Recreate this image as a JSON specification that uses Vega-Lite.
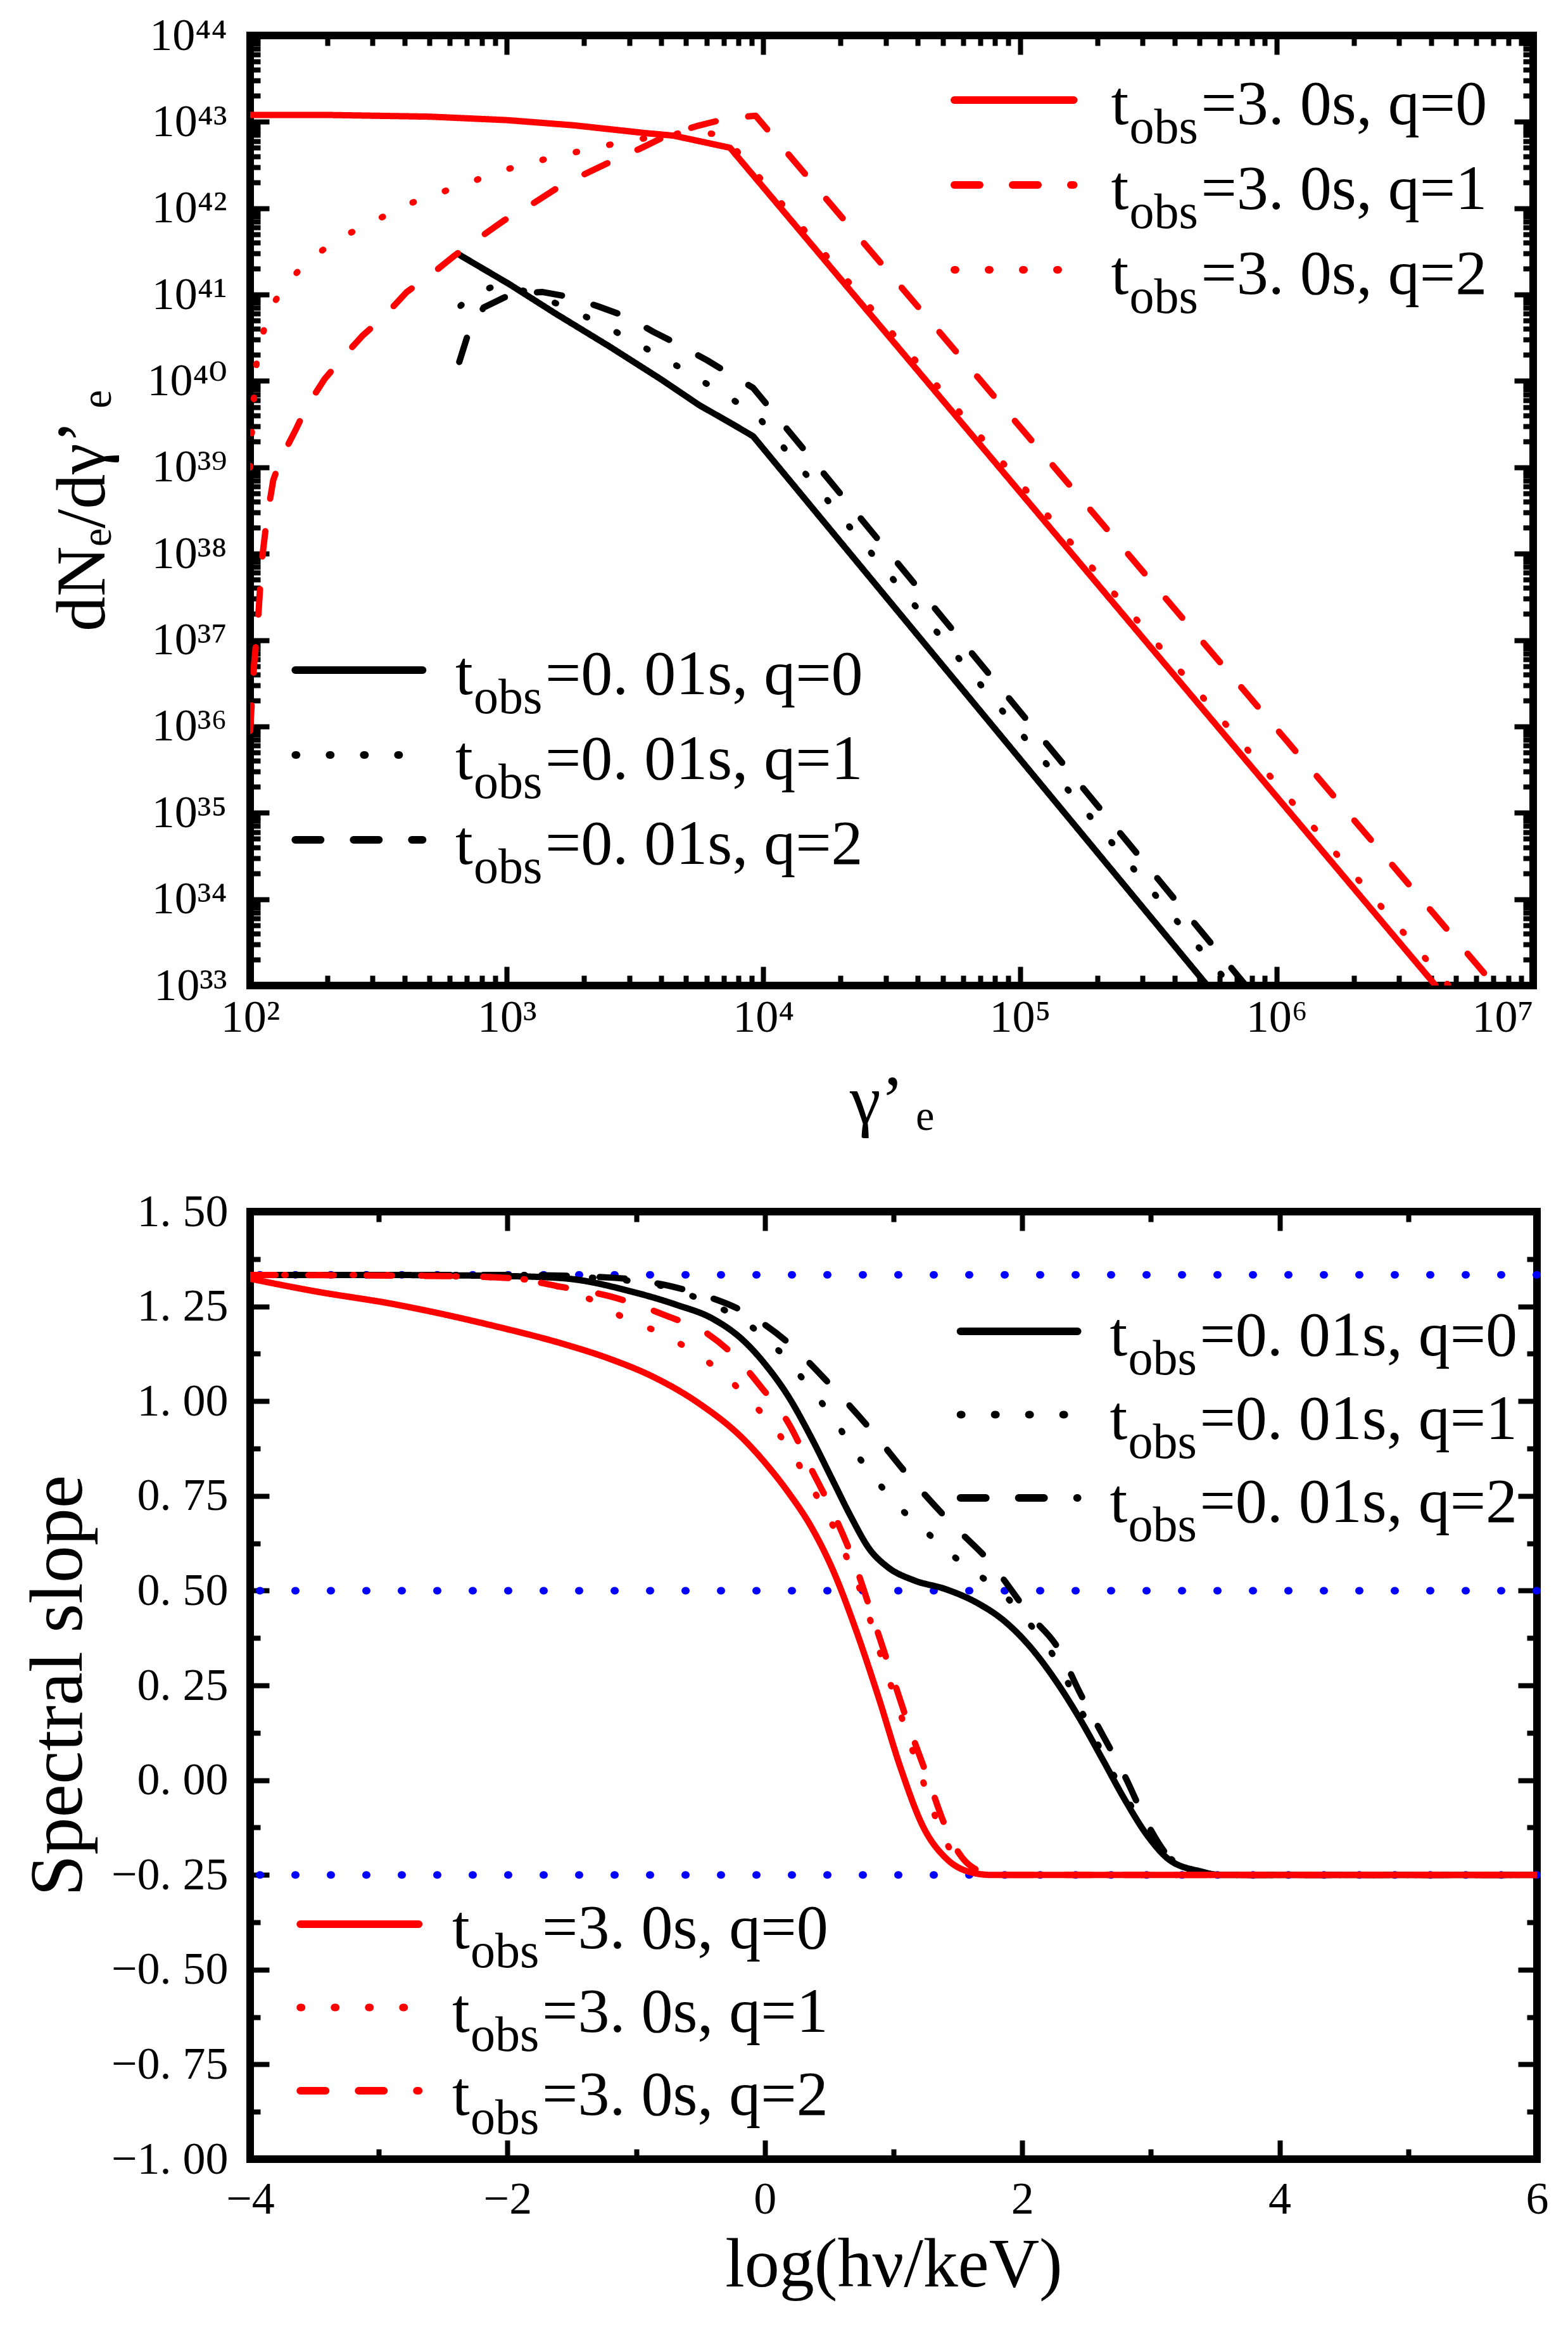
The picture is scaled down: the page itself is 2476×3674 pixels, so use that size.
{
  "$schema": "https://vega.github.io/schema/vega-lite/v6.json",
  "background": "white",
  "padding": {"left": 28, "top": 14, "right": 20, "bottom": 10},
  "spacing": 70,
  "config": {
    "font": "Liberation Serif",
    "view": {"stroke": "black", "strokeWidth": 12},
    "axis": {
      "domain": false, "grid": false, "tickColor": "black", "tickWidth": 8, "tickCap": "butt",
      "labelColor": "black", "labelFont": "Liberation Serif, DejaVu Serif", "labelFontSize": 72, "labelLimit": 0,
      "titleFont": "Liberation Serif, DejaVu Serif", "titleFontSize": 110, "titleFontWeight": "normal", "titleColor": "black",
      "labelOverlap": false, "labelFlush": false, "labelBound": false
    },
    "text": {"font": "Liberation Serif", "color": "black"}
  },
  "datasets": {
    "topLines": [
      {"run": "t=0.01s, q=0", "gamma": 645.7, "dn": 2.95e41},
      {"run": "t=0.01s, q=0", "gamma": 1023, "dn": 1.32e41},
      {"run": "t=0.01s, q=0", "gamma": 1549, "dn": 6.03e40},
      {"run": "t=0.01s, q=0", "gamma": 2512, "dn": 2.51e40},
      {"run": "t=0.01s, q=0", "gamma": 3981, "dn": 1.05e40},
      {"run": "t=0.01s, q=0", "gamma": 5623, "dn": 5.25e39},
      {"run": "t=0.01s, q=0", "gamma": 7586, "dn": 3.16e39},
      {"run": "t=0.01s, q=0", "gamma": 9120, "dn": 2.29e39},
      {"run": "t=0.01s, q=0", "gamma": 537000, "dn": 1e33},
      {"run": "t=0.01s, q=1", "gamma": 660.7, "dn": 7.41e40},
      {"run": "t=0.01s, q=1", "gamma": 741.3, "dn": 1e41},
      {"run": "t=0.01s, q=1", "gamma": 881.0, "dn": 1.23e41},
      {"run": "t=0.01s, q=1", "gamma": 1122, "dn": 1.15e41},
      {"run": "t=0.01s, q=1", "gamma": 1585, "dn": 7.76e40},
      {"run": "t=0.01s, q=1", "gamma": 2113, "dn": 5.25e40},
      {"run": "t=0.01s, q=1", "gamma": 2818, "dn": 3.39e40},
      {"run": "t=0.01s, q=1", "gamma": 3715, "dn": 2.14e40},
      {"run": "t=0.01s, q=1", "gamma": 4898, "dn": 1.35e40},
      {"run": "t=0.01s, q=1", "gamma": 6457, "dn": 8.13e39},
      {"run": "t=0.01s, q=1", "gamma": 9333, "dn": 4.17e39},
      {"run": "t=0.01s, q=1", "gamma": 661000, "dn": 1e33},
      {"run": "t=0.01s, q=2", "gamma": 653.1, "dn": 1.66e40},
      {"run": "t=0.01s, q=2", "gamma": 707.9, "dn": 3.55e40},
      {"run": "t=0.01s, q=2", "gamma": 812.8, "dn": 7.08e40},
      {"run": "t=0.01s, q=2", "gamma": 1047, "dn": 1.02e41},
      {"run": "t=0.01s, q=2", "gamma": 1380, "dn": 1.07e41},
      {"run": "t=0.01s, q=2", "gamma": 1778, "dn": 9.33e40},
      {"run": "t=0.01s, q=2", "gamma": 2291, "dn": 7.24e40},
      {"run": "t=0.01s, q=2", "gamma": 2951, "dn": 5.5e40},
      {"run": "t=0.01s, q=2", "gamma": 3715, "dn": 3.72e40},
      {"run": "t=0.01s, q=2", "gamma": 4677, "dn": 2.63e40},
      {"run": "t=0.01s, q=2", "gamma": 6026, "dn": 1.74e40},
      {"run": "t=0.01s, q=2", "gamma": 7413, "dn": 1.2e40},
      {"run": "t=0.01s, q=2", "gamma": 9120, "dn": 8.32e39},
      {"run": "t=0.01s, q=2", "gamma": 759000, "dn": 1e33},
      {"run": "t=3.0s, q=0", "gamma": 100, "dn": 1.202e43},
      {"run": "t=3.0s, q=0", "gamma": 199.5, "dn": 1.202e43},
      {"run": "t=3.0s, q=0", "gamma": 501.2, "dn": 1.148e43},
      {"run": "t=3.0s, q=0", "gamma": 1000, "dn": 1.047e43},
      {"run": "t=3.0s, q=0", "gamma": 1820, "dn": 9.12e42},
      {"run": "t=3.0s, q=0", "gamma": 3467, "dn": 7.41e42},
      {"run": "t=3.0s, q=0", "gamma": 4467, "dn": 6.92e42},
      {"run": "t=3.0s, q=0", "gamma": 7413, "dn": 5.01e42},
      {"run": "t=3.0s, q=0", "gamma": 4169000, "dn": 1e33},
      {"run": "t=3.0s, q=1", "gamma": 100, "dn": 8.91e35},
      {"run": "t=3.0s, q=1", "gamma": 103.5, "dn": 5.01e36},
      {"run": "t=3.0s, q=1", "gamma": 107.2, "dn": 1.585e37},
      {"run": "t=3.0s, q=1", "gamma": 110.9, "dn": 7.94e37},
      {"run": "t=3.0s, q=1", "gamma": 116.1, "dn": 2.51e38},
      {"run": "t=3.0s, q=1", "gamma": 123.0, "dn": 7.08e38},
      {"run": "t=3.0s, q=1", "gamma": 131.8, "dn": 1.259e39},
      {"run": "t=3.0s, q=1", "gamma": 151.4, "dn": 2.82e39},
      {"run": "t=3.0s, q=1", "gamma": 166.0, "dn": 5.01e39},
      {"run": "t=3.0s, q=1", "gamma": 195.0, "dn": 1.05e40},
      {"run": "t=3.0s, q=1", "gamma": 229.1, "dn": 1.86e40},
      {"run": "t=3.0s, q=1", "gamma": 275.4, "dn": 3.39e40},
      {"run": "t=3.0s, q=1", "gamma": 331.1, "dn": 5.5e40},
      {"run": "t=3.0s, q=1", "gamma": 407.4, "dn": 1.07e41},
      {"run": "t=3.0s, q=1", "gamma": 501.2, "dn": 1.66e41},
      {"run": "t=3.0s, q=1", "gamma": 631.0, "dn": 2.88e41},
      {"run": "t=3.0s, q=1", "gamma": 776.2, "dn": 4.47e41},
      {"run": "t=3.0s, q=1", "gamma": 977.2, "dn": 7.24e41},
      {"run": "t=3.0s, q=1", "gamma": 1230, "dn": 1.072e42},
      {"run": "t=3.0s, q=1", "gamma": 1585, "dn": 1.74e42},
      {"run": "t=3.0s, q=1", "gamma": 1995, "dn": 2.45e42},
      {"run": "t=3.0s, q=1", "gamma": 2630, "dn": 3.63e42},
      {"run": "t=3.0s, q=1", "gamma": 3311, "dn": 4.9e42},
      {"run": "t=3.0s, q=1", "gamma": 4266, "dn": 7.08e42},
      {"run": "t=3.0s, q=1", "gamma": 5495, "dn": 8.91e42},
      {"run": "t=3.0s, q=1", "gamma": 7244, "dn": 1.1e43},
      {"run": "t=3.0s, q=1", "gamma": 9333, "dn": 1.175e43},
      {"run": "t=3.0s, q=1", "gamma": 7080000, "dn": 1e33},
      {"run": "t=3.0s, q=2", "gamma": 100, "dn": 1e39},
      {"run": "t=3.0s, q=2", "gamma": 102.3, "dn": 3.98e39},
      {"run": "t=3.0s, q=2", "gamma": 105.9, "dn": 1.585e40},
      {"run": "t=3.0s, q=2", "gamma": 110.9, "dn": 3.16e40},
      {"run": "t=3.0s, q=2", "gamma": 119.1, "dn": 6.61e40},
      {"run": "t=3.0s, q=2", "gamma": 138.0, "dn": 1.35e41},
      {"run": "t=3.0s, q=2", "gamma": 175.8, "dn": 2.75e41},
      {"run": "t=3.0s, q=2", "gamma": 229.1, "dn": 4.68e41},
      {"run": "t=3.0s, q=2", "gamma": 309.0, "dn": 7.24e41},
      {"run": "t=3.0s, q=2", "gamma": 407.4, "dn": 1.1e42},
      {"run": "t=3.0s, q=2", "gamma": 549.5, "dn": 1.51e42},
      {"run": "t=3.0s, q=2", "gamma": 749.9, "dn": 2.09e42},
      {"run": "t=3.0s, q=2", "gamma": 1000, "dn": 2.82e42},
      {"run": "t=3.0s, q=2", "gamma": 1380, "dn": 3.63e42},
      {"run": "t=3.0s, q=2", "gamma": 1862, "dn": 4.47e42},
      {"run": "t=3.0s, q=2", "gamma": 2570, "dn": 5.5e42},
      {"run": "t=3.0s, q=2", "gamma": 3467, "dn": 6.46e42},
      {"run": "t=3.0s, q=2", "gamma": 4786, "dn": 7.41e42},
      {"run": "t=3.0s, q=2", "gamma": 6918, "dn": 7.24e42},
      {"run": "t=3.0s, q=2", "gamma": 4680000, "dn": 1e33}
    ],
    "slopeLines": [
      {"run": "t=0.01s, q=0", "nu": -4, "slope": 1.333},
      {"run": "t=0.01s, q=0", "nu": -3, "slope": 1.333},
      {"run": "t=0.01s, q=0", "nu": -2.5, "slope": 1.332},
      {"run": "t=0.01s, q=0", "nu": -2, "slope": 1.33},
      {"run": "t=0.01s, q=0", "nu": -1.557, "slope": 1.324},
      {"run": "t=0.01s, q=0", "nu": -1.035, "slope": 1.289},
      {"run": "t=0.01s, q=0", "nu": -0.686, "slope": 1.254},
      {"run": "t=0.01s, q=0", "nu": -0.408, "slope": 1.218},
      {"run": "t=0.01s, q=0", "nu": -0.164, "slope": 1.159},
      {"run": "t=0.01s, q=0", "nu": 0.01, "slope": 1.094},
      {"run": "t=0.01s, q=0", "nu": 0.185, "slope": 1.011},
      {"run": "t=0.01s, q=0", "nu": 0.359, "slope": 0.905},
      {"run": "t=0.01s, q=0", "nu": 0.533, "slope": 0.787},
      {"run": "t=0.01s, q=0", "nu": 0.672, "slope": 0.693},
      {"run": "t=0.01s, q=0", "nu": 0.812, "slope": 0.61},
      {"run": "t=0.01s, q=0", "nu": 0.951, "slope": 0.563},
      {"run": "t=0.01s, q=0", "nu": 1.16, "slope": 0.527},
      {"run": "t=0.01s, q=0", "nu": 1.404, "slope": 0.504},
      {"run": "t=0.01s, q=0", "nu": 1.648, "slope": 0.468},
      {"run": "t=0.01s, q=0", "nu": 1.857, "slope": 0.421},
      {"run": "t=0.01s, q=0", "nu": 2.066, "slope": 0.35},
      {"run": "t=0.01s, q=0", "nu": 2.275, "slope": 0.255},
      {"run": "t=0.01s, q=0", "nu": 2.449, "slope": 0.161},
      {"run": "t=0.01s, q=0", "nu": 2.624, "slope": 0.055},
      {"run": "t=0.01s, q=0", "nu": 2.798, "slope": -0.052},
      {"run": "t=0.01s, q=0", "nu": 2.972, "slope": -0.146},
      {"run": "t=0.01s, q=0", "nu": 3.146, "slope": -0.211},
      {"run": "t=0.01s, q=0", "nu": 3.39, "slope": -0.241},
      {"run": "t=0.01s, q=0", "nu": 3.53, "slope": -0.25},
      {"run": "t=0.01s, q=0", "nu": 6, "slope": -0.25},
      {"run": "t=0.01s, q=1", "nu": -4, "slope": 1.333},
      {"run": "t=0.01s, q=1", "nu": -2, "slope": 1.333},
      {"run": "t=0.01s, q=1", "nu": -1.2, "slope": 1.322},
      {"run": "t=0.01s, q=1", "nu": -0.756, "slope": 1.3},
      {"run": "t=0.01s, q=1", "nu": -0.512, "slope": 1.27},
      {"run": "t=0.01s, q=1", "nu": -0.233, "slope": 1.225},
      {"run": "t=0.01s, q=1", "nu": -0.024, "slope": 1.175},
      {"run": "t=0.01s, q=1", "nu": 0.185, "slope": 1.105},
      {"run": "t=0.01s, q=1", "nu": 0.359, "slope": 1.03},
      {"run": "t=0.01s, q=1", "nu": 0.533, "slope": 0.955},
      {"run": "t=0.01s, q=1", "nu": 0.672, "slope": 0.88},
      {"run": "t=0.01s, q=1", "nu": 0.847, "slope": 0.8},
      {"run": "t=0.01s, q=1", "nu": 1.021, "slope": 0.728},
      {"run": "t=0.01s, q=1", "nu": 1.23, "slope": 0.663},
      {"run": "t=0.01s, q=1", "nu": 1.439, "slope": 0.598},
      {"run": "t=0.01s, q=1", "nu": 1.648, "slope": 0.545},
      {"run": "t=0.01s, q=1", "nu": 1.857, "slope": 0.49},
      {"run": "t=0.01s, q=1", "nu": 2.066, "slope": 0.409},
      {"run": "t=0.01s, q=1", "nu": 2.275, "slope": 0.31},
      {"run": "t=0.01s, q=1", "nu": 2.449, "slope": 0.19},
      {"run": "t=0.01s, q=1", "nu": 2.624, "slope": 0.07},
      {"run": "t=0.01s, q=1", "nu": 2.798, "slope": -0.04},
      {"run": "t=0.01s, q=1", "nu": 2.972, "slope": -0.135},
      {"run": "t=0.01s, q=1", "nu": 3.146, "slope": -0.205},
      {"run": "t=0.01s, q=1", "nu": 3.39, "slope": -0.243},
      {"run": "t=0.01s, q=1", "nu": 3.55, "slope": -0.25},
      {"run": "t=0.01s, q=1", "nu": 6, "slope": -0.25},
      {"run": "t=0.01s, q=2", "nu": -4, "slope": 1.333},
      {"run": "t=0.01s, q=2", "nu": -2, "slope": 1.333},
      {"run": "t=0.01s, q=2", "nu": -1.2, "slope": 1.326},
      {"run": "t=0.01s, q=2", "nu": -0.756, "slope": 1.305},
      {"run": "t=0.01s, q=2", "nu": -0.512, "slope": 1.283},
      {"run": "t=0.01s, q=2", "nu": -0.164, "slope": 1.236},
      {"run": "t=0.01s, q=2", "nu": 0.185, "slope": 1.153},
      {"run": "t=0.01s, q=2", "nu": 0.498, "slope": 1.047},
      {"run": "t=0.01s, q=2", "nu": 0.812, "slope": 0.929},
      {"run": "t=0.01s, q=2", "nu": 1.125, "slope": 0.799},
      {"run": "t=0.01s, q=2", "nu": 1.439, "slope": 0.681},
      {"run": "t=0.01s, q=2", "nu": 1.753, "slope": 0.574},
      {"run": "t=0.01s, q=2", "nu": 2.066, "slope": 0.433},
      {"run": "t=0.01s, q=2", "nu": 2.275, "slope": 0.35},
      {"run": "t=0.01s, q=2", "nu": 2.449, "slope": 0.23},
      {"run": "t=0.01s, q=2", "nu": 2.624, "slope": 0.12},
      {"run": "t=0.01s, q=2", "nu": 2.798, "slope": 0.01},
      {"run": "t=0.01s, q=2", "nu": 2.972, "slope": -0.115},
      {"run": "t=0.01s, q=2", "nu": 3.146, "slope": -0.205},
      {"run": "t=0.01s, q=2", "nu": 3.39, "slope": -0.247},
      {"run": "t=0.01s, q=2", "nu": 3.55, "slope": -0.25},
      {"run": "t=0.01s, q=2", "nu": 6, "slope": -0.25},
      {"run": "t=3.0s, q=0", "nu": -4, "slope": 1.323},
      {"run": "t=3.0s, q=0", "nu": -3.5, "slope": 1.29},
      {"run": "t=3.0s, q=0", "nu": -2.886, "slope": 1.256},
      {"run": "t=3.0s, q=0", "nu": -2.1, "slope": 1.198},
      {"run": "t=3.0s, q=0", "nu": -1.557, "slope": 1.15},
      {"run": "t=3.0s, q=0", "nu": -1.209, "slope": 1.112},
      {"run": "t=3.0s, q=0", "nu": -0.861, "slope": 1.063},
      {"run": "t=3.0s, q=0", "nu": -0.512, "slope": 0.994},
      {"run": "t=3.0s, q=0", "nu": -0.164, "slope": 0.899},
      {"run": "t=3.0s, q=0", "nu": 0.01, "slope": 0.834},
      {"run": "t=3.0s, q=0", "nu": 0.185, "slope": 0.758},
      {"run": "t=3.0s, q=0", "nu": 0.359, "slope": 0.669},
      {"run": "t=3.0s, q=0", "nu": 0.533, "slope": 0.551},
      {"run": "t=3.0s, q=0", "nu": 0.707, "slope": 0.397},
      {"run": "t=3.0s, q=0", "nu": 0.882, "slope": 0.22},
      {"run": "t=3.0s, q=0", "nu": 1.056, "slope": 0.031},
      {"run": "t=3.0s, q=0", "nu": 1.23, "slope": -0.123},
      {"run": "t=3.0s, q=0", "nu": 1.404, "slope": -0.205},
      {"run": "t=3.0s, q=0", "nu": 1.578, "slope": -0.241},
      {"run": "t=3.0s, q=0", "nu": 1.753, "slope": -0.25},
      {"run": "t=3.0s, q=0", "nu": 6, "slope": -0.25},
      {"run": "t=3.0s, q=1", "nu": -4, "slope": 1.333},
      {"run": "t=3.0s, q=1", "nu": -3, "slope": 1.333},
      {"run": "t=3.0s, q=1", "nu": -2.5, "slope": 1.33},
      {"run": "t=3.0s, q=1", "nu": -2, "slope": 1.325},
      {"run": "t=3.0s, q=1", "nu": -1.75, "slope": 1.315},
      {"run": "t=3.0s, q=1", "nu": -1.5, "slope": 1.29},
      {"run": "t=3.0s, q=1", "nu": -1.25, "slope": 1.25},
      {"run": "t=3.0s, q=1", "nu": -1.07, "slope": 1.215},
      {"run": "t=3.0s, q=1", "nu": -0.791, "slope": 1.177},
      {"run": "t=3.0s, q=1", "nu": -0.582, "slope": 1.135},
      {"run": "t=3.0s, q=1", "nu": -0.338, "slope": 1.076},
      {"run": "t=3.0s, q=1", "nu": -0.129, "slope": 1.006},
      {"run": "t=3.0s, q=1", "nu": 0.045, "slope": 0.941},
      {"run": "t=3.0s, q=1", "nu": 0.22, "slope": 0.858},
      {"run": "t=3.0s, q=1", "nu": 0.359, "slope": 0.775},
      {"run": "t=3.0s, q=1", "nu": 0.498, "slope": 0.693},
      {"run": "t=3.0s, q=1", "nu": 0.638, "slope": 0.586},
      {"run": "t=3.0s, q=1", "nu": 0.777, "slope": 0.468},
      {"run": "t=3.0s, q=1", "nu": 0.882, "slope": 0.35},
      {"run": "t=3.0s, q=1", "nu": 0.986, "slope": 0.244},
      {"run": "t=3.0s, q=1", "nu": 1.091, "slope": 0.137},
      {"run": "t=3.0s, q=1", "nu": 1.23, "slope": -0.004},
      {"run": "t=3.0s, q=1", "nu": 1.369, "slope": -0.134},
      {"run": "t=3.0s, q=1", "nu": 1.509, "slope": -0.217},
      {"run": "t=3.0s, q=1", "nu": 1.683, "slope": -0.247},
      {"run": "t=3.0s, q=1", "nu": 1.8, "slope": -0.25},
      {"run": "t=3.0s, q=1", "nu": 6, "slope": -0.25},
      {"run": "t=3.0s, q=2", "nu": -4, "slope": 1.333},
      {"run": "t=3.0s, q=2", "nu": -2.5, "slope": 1.33},
      {"run": "t=3.0s, q=2", "nu": -2, "slope": 1.325},
      {"run": "t=3.0s, q=2", "nu": -1.557, "slope": 1.3},
      {"run": "t=3.0s, q=2", "nu": -1.209, "slope": 1.277},
      {"run": "t=3.0s, q=2", "nu": -0.756, "slope": 1.224},
      {"run": "t=3.0s, q=2", "nu": -0.442, "slope": 1.177},
      {"run": "t=3.0s, q=2", "nu": -0.233, "slope": 1.118},
      {"run": "t=3.0s, q=2", "nu": -0.024, "slope": 1.035},
      {"run": "t=3.0s, q=2", "nu": 0.185, "slope": 0.941},
      {"run": "t=3.0s, q=2", "nu": 0.359, "slope": 0.822},
      {"run": "t=3.0s, q=2", "nu": 0.533, "slope": 0.704},
      {"run": "t=3.0s, q=2", "nu": 0.707, "slope": 0.563},
      {"run": "t=3.0s, q=2", "nu": 0.847, "slope": 0.421},
      {"run": "t=3.0s, q=2", "nu": 0.986, "slope": 0.279},
      {"run": "t=3.0s, q=2", "nu": 1.125, "slope": 0.137},
      {"run": "t=3.0s, q=2", "nu": 1.265, "slope": 0.007},
      {"run": "t=3.0s, q=2", "nu": 1.404, "slope": -0.123},
      {"run": "t=3.0s, q=2", "nu": 1.509, "slope": -0.193},
      {"run": "t=3.0s, q=2", "nu": 1.683, "slope": -0.241},
      {"run": "t=3.0s, q=2", "nu": 1.85, "slope": -0.25},
      {"run": "t=3.0s, q=2", "nu": 6, "slope": -0.25}
    ],
    "refLevels": [
      {"level": 1.3333},
      {"level": 0.5},
      {"level": -0.25}
    ],
    "legendRows": [
      {"run": "t=0.01s, q=0", "tail": "=0. 01s, q=0"},
      {"run": "t=0.01s, q=1", "tail": "=0. 01s, q=1"},
      {"run": "t=0.01s, q=2", "tail": "=0. 01s, q=2"},
      {"run": "t=3.0s, q=0", "tail": "=3. 0s, q=0"},
      {"run": "t=3.0s, q=1", "tail": "=3. 0s, q=1"},
      {"run": "t=3.0s, q=2", "tail": "=3. 0s, q=2"}
    ]
  },
  "resolve": {"scale": {"x": "independent", "y": "independent", "color": "independent", "strokeDash": "independent"}},
  "vconcat": [
    {
      "width": 2026,
      "height": 1500,
      "resolve": {"scale": {"y": "independent"}},
      "layer": [
        {
          "data": {"name": "topLines"},
          "resolve": {"axis": {"x": "independent", "y": "independent"}},
          "layer": [
            {
              "mark": {"type": "line", "strokeWidth": 10, "strokeCap": "round", "strokeJoin": "round", "clip": true},
              "encoding": {
                "x": {"field": "gamma", "type": "quantitative",
                  "scale": {"type": "log", "domain": [100, 10000000]},
                  "axis": {"orient": "bottom",
                    "values": [1e2,2e2,3e2,4e2,5e2,6e2,7e2,8e2,9e2,1e3,2e3,3e3,4e3,5e3,6e3,7e3,8e3,9e3,1e4,2e4,3e4,4e4,5e4,6e4,7e4,8e4,9e4,1e5,2e5,3e5,4e5,5e5,6e5,7e5,8e5,9e5,1e6,2e6,3e6,4e6,5e6,6e6,7e6,8e6,9e6,1e7],
                    "labelExpr": "abs(log(datum.value)/LN10 - round(log(datum.value)/LN10)) < 0.001 ? '10' + (round(log(datum.value)/LN10) >= 10 ? substring('⁰¹²³⁴⁵⁶⁷⁸⁹', floor(round(log(datum.value)/LN10)/10), floor(round(log(datum.value)/LN10)/10) + 1) : '') + substring('⁰¹²³⁴⁵⁶⁷⁸⁹', round(log(datum.value)/LN10) % 10, round(log(datum.value)/LN10) % 10 + 1) : ''",
                    "labelAlign": {"condition": {"test": "datum.value > 5e6", "value": "right"}, "value": "center"},
                    "tickSize": {"condition": {"test": "abs(log(datum.value)/LN10 - round(log(datum.value)/LN10)) < 0.001", "value": -30}, "value": -16},
                    "labelPadding": 45,
                    "title": "γ’ ₑ",
                    "titlePadding": 30}},
                "y": {"field": "dn", "type": "quantitative",
                  "scale": {"type": "log", "domain": [1e33, 1e44]},
                  "axis": {"orient": "left",
                    "values": [1e33,2e33,3e33,4e33,5e33,6e33,7e33,8e33,9e33,1e34,2e34,3e34,4e34,5e34,6e34,7e34,8e34,9e34,1e35,2e35,3e35,4e35,5e35,6e35,7e35,8e35,9e35,1e36,2e36,3e36,4e36,5e36,6e36,7e36,8e36,9e36,1e37,2e37,3e37,4e37,5e37,6e37,7e37,8e37,9e37,1e38,2e38,3e38,4e38,5e38,6e38,7e38,8e38,9e38,1e39,2e39,3e39,4e39,5e39,6e39,7e39,8e39,9e39,1e40,2e40,3e40,4e40,5e40,6e40,7e40,8e40,9e40,1e41,2e41,3e41,4e41,5e41,6e41,7e41,8e41,9e41,1e42,2e42,3e42,4e42,5e42,6e42,7e42,8e42,9e42,1e43,2e43,3e43,4e43,5e43,6e43,7e43,8e43,9e43,1e44],
                    "labelExpr": "abs(log(datum.value)/LN10 - round(log(datum.value)/LN10)) < 0.001 ? '10' + (round(log(datum.value)/LN10) >= 10 ? substring('⁰¹²³⁴⁵⁶⁷⁸⁹', floor(round(log(datum.value)/LN10)/10), floor(round(log(datum.value)/LN10)/10) + 1) : '') + substring('⁰¹²³⁴⁵⁶⁷⁸⁹', round(log(datum.value)/LN10) % 10, round(log(datum.value)/LN10) % 10 + 1) : ''",
                    "tickSize": {"condition": {"test": "abs(log(datum.value)/LN10 - round(log(datum.value)/LN10)) < 0.001", "value": -30}, "value": -16},
                    "labelPadding": 67,
                    "title": "dNₑ/dγ’ ₑ",
                    "titlePadding": 45}},
                "color": {"field": "run", "type": "nominal",
                  "scale": {"domain": ["t=0.01s, q=0", "t=0.01s, q=1", "t=0.01s, q=2", "t=3.0s, q=0", "t=3.0s, q=1", "t=3.0s, q=2"],
                            "range": ["#000000", "#000000", "#000000", "#ff0000", "#ff0000", "#ff0000"]},
                  "legend": null},
                "strokeDash": {"field": "run", "type": "nominal",
                  "scale": {"domain": ["t=0.01s, q=0", "t=0.01s, q=1", "t=0.01s, q=2", "t=3.0s, q=0", "t=3.0s, q=1", "t=3.0s, q=2"],
                            "range": [[1, 0], [2, 52], [40, 52], [1, 0], [40, 52], [2, 52]]},
                  "legend": null}
              }
            },
            {
              "mark": {"type": "point", "opacity": 0},
              "encoding": {
                "x": {"field": "gamma", "type": "quantitative",
                  "axis": {"orient": "top", "labels": false, "title": null,
                    "values": [1e2,2e2,3e2,4e2,5e2,6e2,7e2,8e2,9e2,1e3,2e3,3e3,4e3,5e3,6e3,7e3,8e3,9e3,1e4,2e4,3e4,4e4,5e4,6e4,7e4,8e4,9e4,1e5,2e5,3e5,4e5,5e5,6e5,7e5,8e5,9e5,1e6,2e6,3e6,4e6,5e6,6e6,7e6,8e6,9e6,1e7],
                    "tickSize": {"condition": {"test": "abs(log(datum.value)/LN10 - round(log(datum.value)/LN10)) < 0.001", "value": -30}, "value": -16}}},
                "y": {"field": "dn", "type": "quantitative",
                  "axis": {"orient": "right", "labels": false, "title": null,
                    "values": [1e33,2e33,3e33,4e33,5e33,6e33,7e33,8e33,9e33,1e34,2e34,3e34,4e34,5e34,6e34,7e34,8e34,9e34,1e35,2e35,3e35,4e35,5e35,6e35,7e35,8e35,9e35,1e36,2e36,3e36,4e36,5e36,6e36,7e36,8e36,9e36,1e37,2e37,3e37,4e37,5e37,6e37,7e37,8e37,9e37,1e38,2e38,3e38,4e38,5e38,6e38,7e38,8e38,9e38,1e39,2e39,3e39,4e39,5e39,6e39,7e39,8e39,9e39,1e40,2e40,3e40,4e40,5e40,6e40,7e40,8e40,9e40,1e41,2e41,3e41,4e41,5e41,6e41,7e41,8e41,9e41,1e42,2e42,3e42,4e42,5e42,6e42,7e42,8e42,9e42,1e43,2e43,3e43,4e43,5e43,6e43,7e43,8e43,9e43,1e44],
                    "tickSize": {"condition": {"test": "abs(log(datum.value)/LN10 - round(log(datum.value)/LN10)) < 0.001", "value": -30}, "value": -16}}}
              }
            }
          ]
        },
        {
          "data": {"name": "legendRows"},
          "transform": [{"filter": "indexof(datum.run, '3.0s') >= 0"}],
          "encoding": {"y": {"field": "run", "type": "nominal", "scale": {"type": "point", "domain": ["t=3.0s, q=0", "t=3.0s, q=1", "t=3.0s, q=2"], "range": [102, 370], "padding": 0}, "axis": null}},
          "layer": [
            {"mark": {"type": "rule", "strokeWidth": 12, "strokeCap": "round"},
             "encoding": {"x": {"datum": 55500, "axis": null}, "x2": {"datum": 162000},
               "color": {"field": "run", "type": "nominal", "legend": null},
               "strokeDash": {"field": "run", "type": "nominal", "legend": null}}},
            {"mark": {"type": "text", "align": "left", "baseline": "alphabetic", "dy": 38, "fontSize": 100},
             "encoding": {"x": {"datum": 226500, "axis": null}, "text": {"value": "t"}}},
            {"mark": {"type": "text", "align": "left", "baseline": "alphabetic", "dx": 29, "dy": 68, "fontSize": 78},
             "encoding": {"x": {"datum": 226500, "axis": null}, "text": {"value": "obs"}}},
            {"mark": {"type": "text", "align": "left", "baseline": "alphabetic", "dx": 142, "dy": 38, "fontSize": 100},
             "encoding": {"x": {"datum": 226500, "axis": null}, "text": {"field": "tail"}}}
          ]
        },
        {
          "data": {"name": "legendRows"},
          "transform": [{"filter": "indexof(datum.run, '0.01s') >= 0"}],
          "encoding": {"y": {"field": "run", "type": "nominal", "scale": {"type": "point", "domain": ["t=0.01s, q=0", "t=0.01s, q=1", "t=0.01s, q=2"], "range": [1002, 1270], "padding": 0}, "axis": null}},
          "layer": [
            {"mark": {"type": "rule", "strokeWidth": 12, "strokeCap": "round"},
             "encoding": {"x": {"datum": 150, "axis": null}, "x2": {"datum": 470},
               "color": {"field": "run", "type": "nominal", "legend": null},
               "strokeDash": {"field": "run", "type": "nominal", "legend": null}}},
            {"mark": {"type": "text", "align": "left", "baseline": "alphabetic", "dy": 38, "fontSize": 100},
             "encoding": {"x": {"datum": 630, "axis": null}, "text": {"value": "t"}}},
            {"mark": {"type": "text", "align": "left", "baseline": "alphabetic", "dx": 29, "dy": 68, "fontSize": 78},
             "encoding": {"x": {"datum": 630, "axis": null}, "text": {"value": "obs"}}},
            {"mark": {"type": "text", "align": "left", "baseline": "alphabetic", "dx": 142, "dy": 38, "fontSize": 100},
             "encoding": {"x": {"datum": 630, "axis": null}, "text": {"field": "tail"}}}
          ]
        }
      ]
    },
    {
      "width": 2032,
      "height": 1496,
      "resolve": {"scale": {"y": "independent"}},
      "layer": [
        {
          "data": {"name": "slopeLines"},
          "resolve": {"axis": {"x": "independent", "y": "independent"}},
          "layer": [
            {
              "data": {"name": "refLevels"},
              "mark": {"type": "rule", "color": "#0000ff", "strokeWidth": 12, "strokeDash": [1, 55], "strokeCap": "round"},
              "encoding": {"y": {"field": "level", "type": "quantitative", "axis": null}}
            },
            {
              "mark": {"type": "line", "strokeWidth": 10, "strokeCap": "round", "strokeJoin": "round", "interpolate": "monotone", "clip": true},
              "encoding": {
                "x": {"field": "nu", "type": "quantitative",
                  "scale": {"domain": [-4, 6], "nice": false, "zero": false},
                  "axis": {"orient": "bottom",
                    "values": [-4, -3, -2, -1, 0, 1, 2, 3, 4, 5, 6],
                    "labelExpr": "datum.value % 2 == 0 ? format(datum.value, 'd') : ''",
                    "tickSize": {"condition": {"test": "datum.value % 2 == 0", "value": -30}, "value": -16},
                    "labelPadding": 58,
                    "title": "log(hν/keV)",
                    "titlePadding": 0}},
                "y": {"field": "slope", "type": "quantitative",
                  "scale": {"domain": [-1, 1.5], "nice": false, "zero": false},
                  "axis": {"orient": "left",
                    "values": [-1, -0.875, -0.75, -0.625, -0.5, -0.375, -0.25, -0.125, 0, 0.125, 0.25, 0.375, 0.5, 0.625, 0.75, 0.875, 1, 1.125, 1.25, 1.375, 1.5],
                    "labelExpr": "abs(datum.value*4 - round(datum.value*4)) < 0.001 ? replace(format(datum.value, '.2f'), '.', '. ') : ''",
                    "tickSize": {"condition": {"test": "abs(datum.value*4 - round(datum.value*4)) < 0.001", "value": -30}, "value": -16},
                    "labelPadding": 65,
                    "title": "Spectral slope",
                    "titleFontSize": 118,
                    "titlePadding": 42}},
                "color": {"field": "run", "type": "nominal",
                  "scale": {"domain": ["t=0.01s, q=0", "t=0.01s, q=1", "t=0.01s, q=2", "t=3.0s, q=0", "t=3.0s, q=1", "t=3.0s, q=2"],
                            "range": ["#000000", "#000000", "#000000", "#ff0000", "#ff0000", "#ff0000"]},
                  "legend": null},
                "strokeDash": {"field": "run", "type": "nominal",
                  "scale": {"domain": ["t=0.01s, q=0", "t=0.01s, q=1", "t=0.01s, q=2", "t=3.0s, q=0", "t=3.0s, q=1", "t=3.0s, q=2"],
                            "range": [[1, 0], [2, 52], [40, 52], [1, 0], [2, 52], [40, 52]]},
                  "legend": null}
              }
            },
            {
              "mark": {"type": "point", "opacity": 0},
              "encoding": {
                "x": {"field": "nu", "type": "quantitative",
                  "axis": {"orient": "top", "labels": false, "title": null,
                    "values": [-4, -3, -2, -1, 0, 1, 2, 3, 4, 5, 6],
                    "tickSize": {"condition": {"test": "datum.value % 2 == 0", "value": -30}, "value": -16}}},
                "y": {"field": "slope", "type": "quantitative",
                  "axis": {"orient": "right", "labels": false, "title": null,
                    "values": [-1, -0.875, -0.75, -0.625, -0.5, -0.375, -0.25, -0.125, 0, 0.125, 0.25, 0.375, 0.5, 0.625, 0.75, 0.875, 1, 1.125, 1.25, 1.375, 1.5],
                    "tickSize": {"condition": {"test": "abs(datum.value*4 - round(datum.value*4)) < 0.001", "value": -30}, "value": -16}}}
              }
            }
          ]
        },
        {
          "data": {"name": "legendRows"},
          "transform": [{"filter": "indexof(datum.run, '0.01s') >= 0"}],
          "encoding": {"y": {"field": "run", "type": "nominal", "scale": {"type": "point", "domain": ["t=0.01s, q=0", "t=0.01s, q=1", "t=0.01s, q=2"], "range": [189, 452], "padding": 0}, "axis": null}},
          "layer": [
            {"mark": {"type": "rule", "strokeWidth": 12, "strokeCap": "round"},
             "encoding": {"x": {"datum": 1.52, "axis": null}, "x2": {"datum": 2.43},
               "color": {"field": "run", "type": "nominal", "legend": null},
               "strokeDash": {"field": "run", "type": "nominal", "legend": null}}},
            {"mark": {"type": "text", "align": "left", "baseline": "alphabetic", "dy": 38, "fontSize": 100},
             "encoding": {"x": {"datum": 2.68, "axis": null}, "text": {"value": "t"}}},
            {"mark": {"type": "text", "align": "left", "baseline": "alphabetic", "dx": 29, "dy": 68, "fontSize": 78},
             "encoding": {"x": {"datum": 2.68, "axis": null}, "text": {"value": "obs"}}},
            {"mark": {"type": "text", "align": "left", "baseline": "alphabetic", "dx": 142, "dy": 38, "fontSize": 100},
             "encoding": {"x": {"datum": 2.68, "axis": null}, "text": {"field": "tail"}}}
          ]
        },
        {
          "data": {"name": "legendRows"},
          "transform": [{"filter": "indexof(datum.run, '3.0s') >= 0"}],
          "encoding": {"y": {"field": "run", "type": "nominal", "scale": {"type": "point", "domain": ["t=3.0s, q=0", "t=3.0s, q=1", "t=3.0s, q=2"], "range": [1125, 1388], "padding": 0}, "axis": null}},
          "layer": [
            {"mark": {"type": "rule", "strokeWidth": 12, "strokeCap": "round"},
             "encoding": {"x": {"datum": -3.61, "axis": null}, "x2": {"datum": -2.69},
               "color": {"field": "run", "type": "nominal", "legend": null},
               "strokeDash": {"field": "run", "type": "nominal", "legend": null}}},
            {"mark": {"type": "text", "align": "left", "baseline": "alphabetic", "dy": 38, "fontSize": 100},
             "encoding": {"x": {"datum": -2.43, "axis": null}, "text": {"value": "t"}}},
            {"mark": {"type": "text", "align": "left", "baseline": "alphabetic", "dx": 29, "dy": 68, "fontSize": 78},
             "encoding": {"x": {"datum": -2.43, "axis": null}, "text": {"value": "obs"}}},
            {"mark": {"type": "text", "align": "left", "baseline": "alphabetic", "dx": 142, "dy": 38, "fontSize": 100},
             "encoding": {"x": {"datum": -2.43, "axis": null}, "text": {"field": "tail"}}}
          ]
        }
      ]
    }
  ]
}
